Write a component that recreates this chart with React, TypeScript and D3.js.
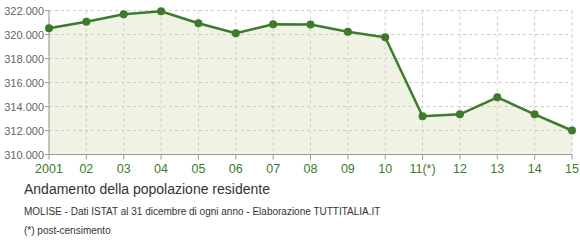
import React from "react";
import * as d3 from "d3";

const years = ["2001", "02", "03", "04", "05", "06", "07", "08", "09", "10", "11(*)", "12", "13", "14", "15"];
const population = [320517, 321067, 321683, 321933, 320933, 320100, 320850, 320838, 320233, 319767, 313183, 313350, 314767, 313350, 312000];
const yTicks = [310000, 312000, 314000, 316000, 318000, 320000, 322000];

const W = 580, H = 240;
const left = 49, right = 572, top = 10.5, bottom = 154.5;

export default function App() {
  const x = d3.scaleLinear().domain([0, years.length - 1]).range([left, right]);
  const y = d3.scaleLinear().domain([310000, 322000]).range([bottom, top]);
  const fmt = (v: number) => d3.format(",.3f")(v / 1000).replace(/,/g, "");
  const line = d3.line<number>().x((_, i) => x(i)).y(d => y(d));
  const area = d3.area<number>().x((_, i) => x(i)).y0(bottom).y1(d => y(d));
  const green = "#3d7a2b";
  return (
    <svg width={W} height={H} style={{ position: "absolute", left: 0, top: 0, fontFamily: "Liberation Sans, Arial, sans-serif" }}>
      <rect width={W} height={H} fill="#fff" />
      <path d={area(population) || ""} fill="#f0f2e3" />
      {yTicks.map(t => (
        <line key={"gy" + t} x1={left} x2={right} y1={y(t)} y2={y(t)} stroke="#ccc" strokeDasharray="3,3" />
      ))}
      {years.map((_, i) => (
        <line key={"gx" + i} x1={x(i)} x2={x(i)} y1={top} y2={bottom} stroke="#ccc" strokeDasharray="3,3" />
      ))}
      <line x1={left} x2={left} y1={top} y2={bottom} stroke="#999" />
      <line x1={left} x2={right} y1={bottom} y2={bottom} stroke="#999" />
      {yTicks.map(t => (
        <g key={"ty" + t}>
          <line x1={left - 4} x2={left} y1={y(t)} y2={y(t)} stroke="#999" />
          <text x={left - 5} y={y(t) + 4} textAnchor="end" fontSize={11} fill="#666">{fmt(t)}</text>
        </g>
      ))}
      {years.map((yr, i) => (
        <g key={"tx" + i}>
          <line x1={x(i)} x2={x(i)} y1={bottom} y2={bottom + 5} stroke="#999" />
          <text x={x(i)} y={bottom + 18} textAnchor="middle" fontSize={12.5} fill={green}>{yr}</text>
        </g>
      ))}
      <path d={line(population) || ""} fill="none" stroke={green} strokeWidth={2.5} />
      {population.map((v, i) => (
        <circle key={"c" + i} cx={x(i)} cy={y(v)} r={4} fill={green} />
      ))}
      <text x={24} y={194} fontSize={14} fill="#333">Andamento della popolazione residente</text>
      <text x={24} y={215} fontSize={10} fill="#333">MOLISE - Dati ISTAT al 31 dicembre di ogni anno - Elaborazione TUTTITALIA.IT</text>
      <text x={24} y={234} fontSize={10} fill="#333">(*) post-censimento</text>
    </svg>
  );
}
